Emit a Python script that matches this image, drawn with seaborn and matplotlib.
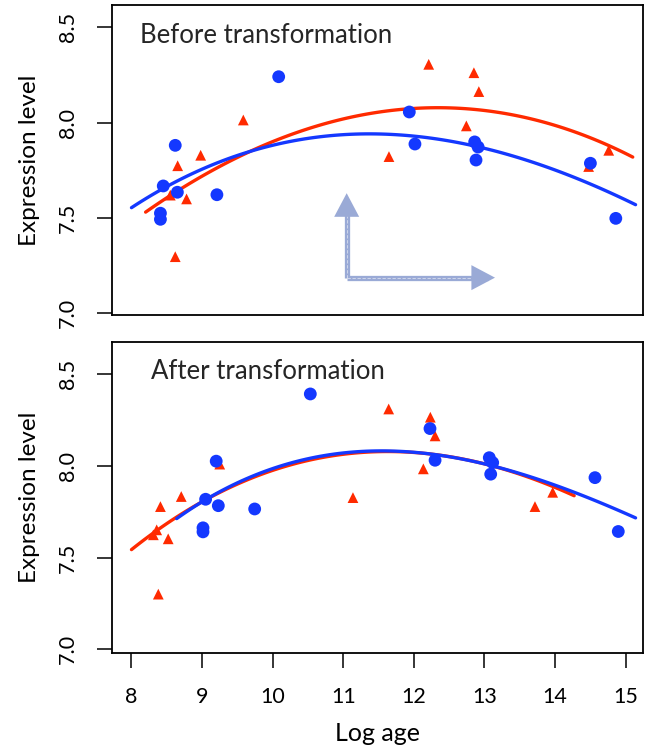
import matplotlib
matplotlib.use("Agg")
import matplotlib.pyplot as plt
import seaborn as sns
import pandas as pd
import numpy as np

# ---------------- data ----------------
# Before transformation
before_red_x = [8.55, 8.62, 8.654, 8.78, 8.98, 9.584, 11.647, 12.21, 12.743, 12.85, 12.92, 14.475, 14.76]
before_red_y = [7.62, 7.297, 7.774, 7.60, 7.829, 8.014, 7.822, 8.306, 7.983, 8.262, 8.163, 7.77, 7.855]
before_blue_x = [8.41, 8.41, 8.45, 8.62, 8.65, 9.21, 10.085, 11.935, 12.015, 12.861, 12.91, 12.88, 14.50, 14.86]
before_blue_y = [7.525, 7.493, 7.668, 7.881, 7.635, 7.622, 8.241, 8.056, 7.888, 7.899, 7.872, 7.804, 7.787, 7.498]

# fitted curves
before_red_fit_x = [8.2, 8.64, 9.11, 9.585, 10.05, 10.53, 11.0, 11.47, 11.9, 12.32, 12.8, 13.27, 13.74, 14.21, 14.65, 15.10]
before_red_fit_y = [7.547, 7.63, 7.725, 7.83, 7.91, 7.979, 8.02, 8.052, 8.075, 8.088, 8.078, 8.052, 8.003, 7.944, 7.89, 7.836]
before_blue_fit_x = [8.0, 8.5, 9.11, 9.585, 10.05, 10.53, 11.0, 11.38, 11.85, 12.32, 12.8, 13.27, 13.74, 14.21, 14.68, 15.14]
before_blue_fit_y = [7.563, 7.66, 7.766, 7.83, 7.885, 7.927, 7.942, 7.944, 7.935, 7.918, 7.883, 7.839, 7.78, 7.714, 7.648, 7.577]

# After transformation
after_red_x = [8.31, 8.357, 8.38, 8.41, 8.52, 8.705, 9.25, 11.137, 11.643, 12.134, 12.233, 12.30, 13.715, 13.966]
after_red_y = [7.624, 7.651, 7.30, 7.778, 7.602, 7.833, 8.01, 7.827, 8.311, 7.984, 8.266, 8.164, 7.778, 7.856]
after_blue_x = [9.013, 9.013, 9.05, 9.20, 9.23, 9.745, 10.533, 12.228, 12.30, 13.068, 13.116, 13.088, 14.565, 14.895]
after_blue_y = [7.662, 7.64, 7.818, 8.026, 7.783, 7.765, 8.393, 8.204, 8.031, 8.045, 8.018, 7.955, 7.936, 7.642]

after_red_fit_x = [8.0, 8.3, 8.64, 9.1, 9.585, 10.05, 10.53, 11.0, 11.47, 11.9, 12.32, 12.8, 13.27, 13.74, 14.27]
after_red_fit_y = [7.551, 7.63, 7.709, 7.82, 7.924, 7.985, 8.033, 8.062, 8.078, 8.08, 8.06, 8.025, 7.983, 7.92, 7.84]
after_blue_fit_x = [8.64, 9.1, 9.585, 10.05, 10.53, 11.0, 11.38, 11.85, 12.32, 12.8, 13.27, 13.74, 14.21, 14.68, 15.14]
after_blue_fit_y = [7.712, 7.825, 7.93, 7.99, 8.038, 8.068, 8.08, 8.082, 8.062, 8.03, 7.987, 7.93, 7.86, 7.79, 7.72]

x_ticks = [8, 9, 10, 11, 12, 13, 14, 15]
y_ticks = [7.0, 7.5, 8.0, 8.5]
y_tick_labels = ["7.0", "7.5", "8.0", "8.5"]
panel_titles = ["Before transformation", "After transformation"]
x_label = "Log age"
y_label = "Expression level"

# ---------------- styling ----------------
sns.set_theme(style="white")
plt.rcParams["font.family"] = ["Lato", "DejaVu Sans"]

RED = "#ff2a00"
BLUE = "#1438ff"
ARROW = "#9aaad6"

fig = plt.figure(figsize=(6.47, 7.52), dpi=100)
ax1 = fig.add_axes([0.1731, 0.5811, 0.8207, 0.4122])
ax2 = fig.add_axes([0.1731, 0.1320, 0.8207, 0.4128])

panels = [
    (ax1, before_red_x, before_red_y, before_blue_x, before_blue_y,
     before_red_fit_x, before_red_fit_y, before_blue_fit_x, before_blue_fit_y, (6.991, 8.617)),
    (ax2, after_red_x, after_red_y, after_blue_x, after_blue_y,
     after_red_fit_x, after_red_fit_y, after_blue_fit_x, after_blue_fit_y, (6.98, 8.675)),
]

for i, (ax, rx, ry, bx, by, rfx, rfy, bfx, bfy, ylim) in enumerate(panels):
    sns.regplot(x=np.array(rfx), y=np.array(rfy), ax=ax, order=3, ci=None, scatter=False,
                truncate=True, line_kws=dict(color=RED, lw=2.4, zorder=2))
    sns.regplot(x=np.array(bfx), y=np.array(bfy), ax=ax, order=3, ci=None, scatter=False,
                truncate=True, line_kws=dict(color=BLUE, lw=2.4, zorder=2))
    sns.scatterplot(x=rx, y=ry, ax=ax, marker="^", color=RED, s=60, edgecolor="none", zorder=3)
    sns.scatterplot(x=bx, y=by, ax=ax, marker="o", color=BLUE, s=85, edgecolor="none", zorder=4)
    ax.set_xlim(7.724, 15.245)
    ax.set_ylim(*ylim)
    ax.set_yticks(y_ticks)
    ax.set_yticklabels(y_tick_labels, fontsize=15.5)
    for lab in ax.get_yticklabels():
        lab.set_rotation(90)
        lab.set_va("center")
        lab.set_ha("right")
    ax.tick_params(axis="y", direction="out", length=10.5, width=1.1, pad=14, left=True, colors="black")
    for sp in ax.spines.values():
        sp.set_visible(True)
        sp.set_color("black")
        sp.set_linewidth(1.3)
    ax.set_ylabel(y_label, fontsize=17.5, labelpad=13, color="black")
    ax.grid(False)

ax1.set_xticks([])
ax1.set_xlabel("")
ax2.set_xticks(x_ticks)
ax2.set_xticklabels([str(t) for t in x_ticks], fontsize=15.5)
ax2.tick_params(axis="x", direction="out", length=10.5, width=1.1, pad=14, bottom=True, colors="black")
ax2.set_xlabel(x_label, fontsize=18, labelpad=11, color="black")

ax1.text(0.052, 0.877, panel_titles[0], transform=ax1.transAxes, fontsize=18.5, ha="left", va="baseline")
ax2.text(0.074, 0.881, panel_titles[1], transform=ax2.transAxes, fontsize=18.5, ha="left", va="baseline")

# arrow annotation in the top panel
ax1.plot([11.048, 11.048], [7.187, 7.56], color=ARROW, lw=3.8, solid_capstyle="butt", zorder=1)
ax1.plot([11.048, 13.05], [7.187, 7.187], color=ARROW, lw=3.8, solid_capstyle="butt", zorder=1)
ax1.plot([11.048, 11.048], [7.187, 7.56], color="white", lw=0.6, ls=(0, (4, 2)), alpha=0.6, zorder=1)
ax1.plot([11.048, 13.05], [7.187, 7.187], color="white", lw=0.6, ls=(0, (4, 2)), alpha=0.6, zorder=1)
ax1.annotate("", xy=(11.048, 7.630), xytext=(11.048, 7.50),
             arrowprops=dict(arrowstyle="-|>,head_length=0.85,head_width=0.45", color=ARROW, lw=0,
                             mutation_scale=20, shrinkA=0, shrinkB=0))
ax1.annotate("", xy=(13.149, 7.187), xytext=(12.9, 7.187),
             arrowprops=dict(arrowstyle="-|>,head_length=0.85,head_width=0.45", color=ARROW, lw=0,
                             mutation_scale=20, shrinkA=0, shrinkB=0))

fig.savefig("out.png", dpi=100)
